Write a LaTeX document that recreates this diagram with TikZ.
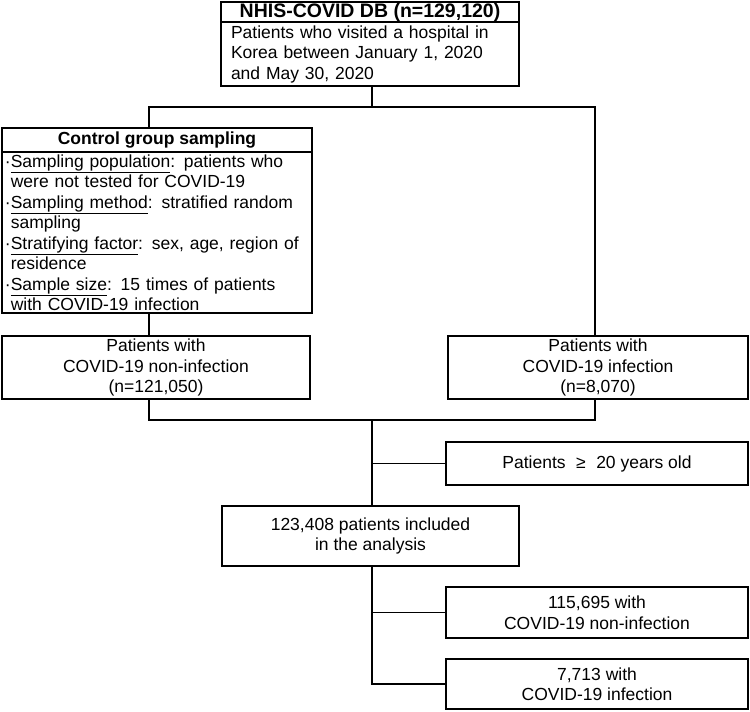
\documentclass[tikz,border=0pt]{standalone}
\usepackage{fontspec}
\setmainfont{Liberation Sans}
\usetikzlibrary{positioning}

\begin{document}
\begin{tikzpicture}[x=1pt,y=-1pt,
  box/.style={draw,line width=1.2pt,outer sep=0pt,inner xsep=2pt,inner ysep=1pt,align=center,font=\fontsize{17.5}{20.5}\selectfont},
  headbox/.style={box,font=\fontsize{17.5}{20}\selectfont\bfseries},
  link/.style={line width=1.2pt}]
\useasboundingbox (0,0) rectangle (750,712);
% source database
\node[headbox,minimum width=298pt,minimum height=20pt,font=\fontsize{19.5}{20}\selectfont\bfseries] (dbhead) at (370,12) {NHIS-COVID DB (n=129,120)};
\node[box,below=0pt of dbhead,text width=278pt,inner xsep=10pt,minimum height=64pt,align=left] (dbbody) {Patients who visited a hospital in\\Korea between January 1, 2020\\and May 30, 2020};
% control sampling
\node[headbox,minimum width=310pt,minimum height=24pt] (ctrlhead) at (157,140) {Control group sampling};
\node[box,below=0pt of ctrlhead,text width=304pt,inner xsep=3pt,minimum height=161pt,align=left] (ctrlbody) {·\underline{Sampling population}: patients who\\\hphantom{·}were not tested for COVID-19\\·\underline{Sampling method}: stratified random\\\hphantom{·}sampling\\·\underline{Stratifying factor}: sex, age, region of\\\hphantom{·}residence\\·\underline{Sample size}: 15 times of patients\\\hphantom{·}with COVID-19 infection};
% two groups
\node[box,minimum width=308pt,minimum height=63pt] (nonpt) at (156,367.5) {Patients with\\COVID-19 non-infection\\(n=121,050)};
\node[box,minimum width=300pt,minimum height=63pt] (infpt) at (598,367.5) {Patients with\\COVID-19 infection\\(n=8,070)};
% analysis set
\node[box,minimum width=302pt,minimum height=43pt] (adult) at (597,463.5) {Patients\hspace{.6em}≥\hspace{.6em}20 years old};
\node[box,minimum width=297pt,minimum height=60pt] (incl) at (370.5,536) {123,408 patients included\\in the analysis};
\node[box,minimum width=302pt,minimum height=51pt] (subnon) at (597,612.5) {115,695 with\\COVID-19 non-infection};
\node[box,minimum width=302pt,minimum height=50pt] (subinf) at (597,684) {7,713 with\\COVID-19 infection};
% connectors
\coordinate (splitL) at (149,107);
\coordinate (splitR) at (595,107);
\coordinate (joinL) at (149,420);
\coordinate (joinR) at (595,420);
\coordinate (trunk) at (372,420);
\draw[link] (dbbody.south -| trunk) -- (trunk |- splitL);
\draw[link] (ctrlhead.north -| splitL) -- (splitL) -- (splitR) -- (infpt.north -| splitR);
\draw[link] (ctrlbody.south -| splitL) -- (nonpt.north -| splitL);
\draw[link] (nonpt.south -| joinL) -- (joinL) -- (joinR) -- (infpt.south -| joinR);
\draw[link] (trunk) -- (incl.north -| trunk);
\draw[link] (adult.west -| trunk) -- (adult.west);
\draw[link] (incl.south -| trunk) -- (subinf.west -| trunk) -- (subinf.west);
\draw[link] (subnon.west -| trunk) -- (subnon.west);
\end{tikzpicture}
\end{document}
